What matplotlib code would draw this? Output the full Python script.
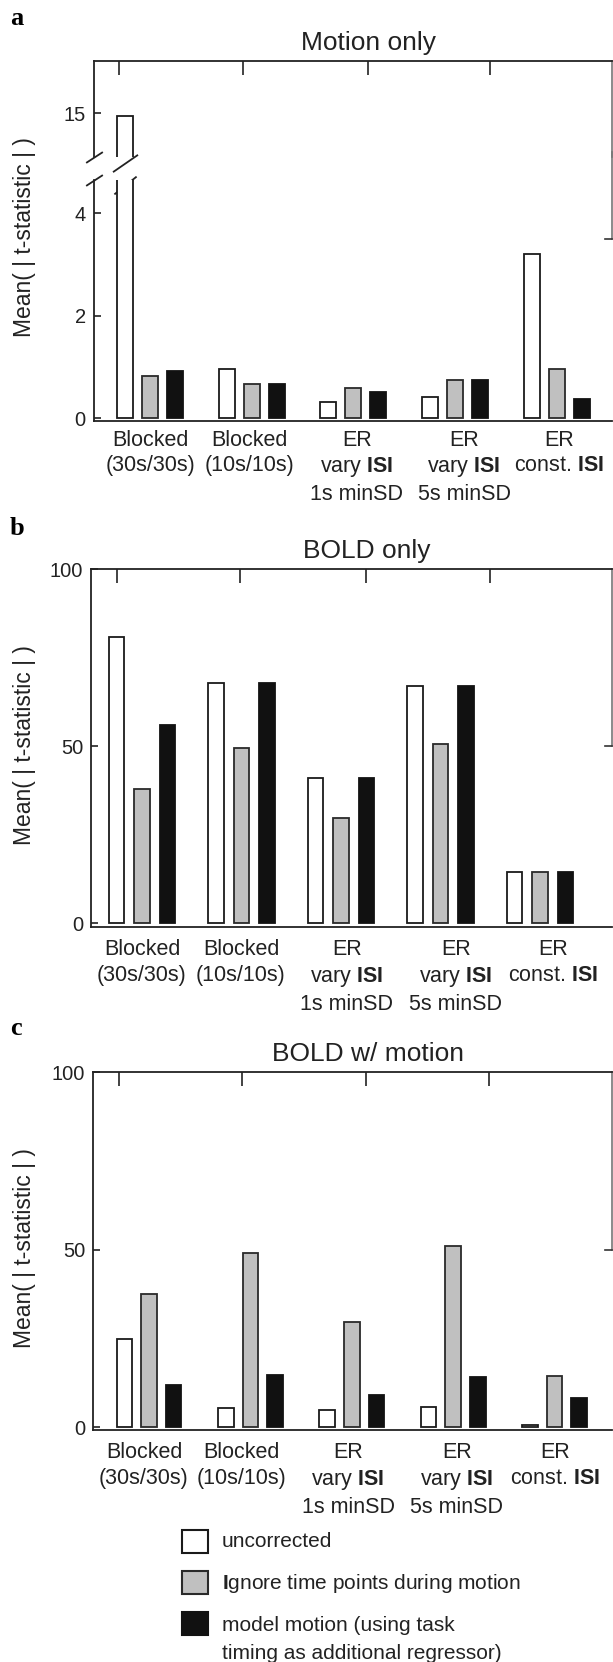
import matplotlib
matplotlib.use("Agg")
import matplotlib.pyplot as plt
from matplotlib.patches import Rectangle
from matplotlib.ticker import FixedLocator

plt.rcParams["font.family"] = ["Liberation Sans", "DejaVu Sans"]
plt.rcParams["mathtext.fontset"] = "custom"
plt.rcParams["mathtext.rm"] = "Liberation Sans"
plt.rcParams["mathtext.bf"] = "Liberation Sans:bold"

# --- data ---
conditions = [
    "Blocked\n(30s/30s)",
    "Blocked\n(10s/10s)",
    "ER\nvary $\\mathbf{ISI}$\n1s minSD",
    "ER\nvary $\\mathbf{ISI}$\n5s minSD",
    "ER\nconst. $\\mathbf{ISI}$",
]
series_names = ["uncorrected", "$\\mathbf{I}$gnore time points during motion",
                "model motion (using task\ntiming as additional regressor)"]

motion_uncorrected = [14.95, 0.97, 0.33, 0.41, 3.20]
motion_ignore = [0.82, 0.67, 0.60, 0.74, 0.97]
motion_model = [0.93, 0.67, 0.52, 0.74, 0.37]

bold_uncorrected = [81.0, 68.0, 41.1, 66.9, 14.4]
bold_ignore = [37.9, 49.4, 29.7, 50.5, 14.4]
bold_model = [56.0, 68.0, 41.1, 66.9, 14.4]

boldmot_uncorrected = [24.9, 5.35, 4.9, 5.8, 0.6]
boldmot_ignore = [37.5, 49.0, 29.8, 51.1, 14.5]
boldmot_model = [11.9, 14.6, 9.2, 14.1, 8.2]

FILLS = ["white", "#c0c0c0", "#111111"]
EDGES = ["#1a1a1a", "#2a2a2a", "#111111"]

W, H = 613, 1662
fig = plt.figure(figsize=(W / 100, H / 100), dpi=100)


def rect(L, T, R, B):
    return [L / W, 1 - B / H, (R - L) / W, (B - T) / H]


# per-panel pixel layout
LAY = {
    "a": dict(x0=150, step=101.65, L=93.5, R=612.3, off=25, bw=15.8, ls=1.26, pad=6.5,
              labels=[150.8, 249.5, 357, 464, 559], top=[119.3, 242.7, 367.5, 489.7]),
    "b": dict(x0=142, step=99.5, L=90.7, R=612, off=25.3, bw=15.5, ls=1.32, pad=8.5,
              labels=[142, 241, 347, 456, 553], top=[116.5, 239.7, 366.4, 490]),
    "c": dict(x0=149, step=101.4, L=92.7, R=612, off=24.6, bw=15.5, ls=1.32, pad=8.5,
              labels=[144, 241, 348, 456.7, 555], top=[118.5, 242.4, 366.4, 488.8]),
}


def to_data(lay, px):
    return (px - lay["x0"]) / lay["step"]


def style_axes(ax, lay, show_labels=True, top_ticks=True):
    ax.set_xlim(to_data(lay, lay["L"]), to_data(lay, lay["R"]))
    ax.spines["right"].set_visible(False)
    for s in ax.spines.values():
        s.set_linewidth(1.3)
        s.set_color("#222222")
    ax.set_xticks([to_data(lay, p) for p in lay["labels"]])
    if show_labels:
        ax.set_xticklabels(conditions, fontsize=15.5, color="#222222",
                           linespacing=lay["ls"])
    else:
        ax.set_xticklabels([])
    ax.tick_params(axis="x", which="major", length=0, pad=lay["pad"])
    if top_ticks:
        ax.xaxis.set_minor_locator(FixedLocator([to_data(lay, p) for p in lay["top"]]))
        ax.tick_params(axis="x", which="minor", top=True, bottom=False,
                       direction="in", length=10, width=1.2, color="#222222")
    ax.tick_params(axis="y", direction="in", length=5, width=1.2, pad=5.5,
                   labelsize=14.5, colors="#222222")


def draw_bars(ax, lay, values):
    idx = list(range(len(conditions)))
    off = lay["off"] / lay["step"]
    bw = lay["bw"] / lay["step"]
    for k, vals in enumerate(values):
        ax.bar([i + (k - 1) * off for i in idx], vals, width=bw,
               color=FILLS[k], edgecolor=EDGES[k], linewidth=1.3, zorder=3)


def right_spine(ax, ylo, yhi):
    ax.plot([1, 1], [ylo, yhi], transform=ax.get_yaxis_transform(),
            color="#777777", lw=1.2, clip_on=False)
    ax.plot([0.986, 1], [ylo, ylo], transform=ax.get_yaxis_transform(),
            color="#333333", lw=1.2, clip_on=False)


def panel_text(letter, y_base, title_ax, title, ylabel_center):
    fig.text(10 / W, 1 - y_base / H, letter, fontsize=19, fontweight="bold",
             family="Liberation Serif", va="baseline", ha="left")
    title_ax.set_title(title, fontsize=19, pad=8, color="#222222",
                       x=(368 - 93) / 519)
    fig.text(25 / W, 1 - ylabel_center / H, "Mean( | t-statistic | )",
             rotation=90, fontsize=16.5, va="center", ha="center", color="#222222")


# ---- panel a: broken axis ----
lay = LAY["a"]
motion = [motion_uncorrected, motion_ignore, motion_model]
ax_up = fig.add_axes(rect(lay["L"], 61, lay["R"], 157))
ax_lo = fig.add_axes(rect(lay["L"], 180, lay["R"], 421))
for ax in (ax_up, ax_lo):
    draw_bars(ax, lay, motion)
style_axes(ax_up, lay, show_labels=False, top_ticks=True)
style_axes(ax_lo, lay, show_labels=True, top_ticks=False)
ax_up.set_ylim(14.148, 16.02)
ax_up.set_yticks([15])
ax_up.spines["bottom"].set_visible(False)
ax_up.tick_params(axis="x", which="major", bottom=False)
ax_lo.set_ylim(-0.05, 4.65)
ax_lo.set_yticks([0, 2, 4])
ax_lo.spines["top"].set_visible(False)
ax_up.plot([1, 1], [0, 1], transform=ax_up.transAxes, color="#777777", lw=1.2,
           clip_on=False)
right_spine(ax_lo, 3.49, 5.2)

# break marks on the y axis and on the tall bar
brk = dict(linestyle="none", color="#222222", mec="#222222", mew=1.3, clip_on=False)
for ax, yy in ((ax_up, 0.0), (ax_lo, 1.0)):
    ax.plot([0], [yy], transform=ax.transAxes,
            marker=[(-1, -0.65), (1, 0.65)], markersize=12, **brk)
bar0 = -lay["off"] / lay["step"]
ax_up.plot([bar0], [-0.065], transform=ax_up.get_xaxis_transform(),
           marker=[(-1, -0.69), (1, 0.69)], markersize=18, **brk)
ax_lo.plot([bar0], [0.979], transform=ax_lo.get_xaxis_transform(),
           marker=[(-1, -0.8), (1, 0.8)], markersize=16, **brk)
panel_text("a", 25, ax_up, "Motion only", 237)

# ---- panel b ----
lay = LAY["b"]
ax_b = fig.add_axes(rect(lay["L"], 569.3, lay["R"], 926.7))
draw_bars(ax_b, lay, [bold_uncorrected, bold_ignore, bold_model])
style_axes(ax_b, lay)
ax_b.set_ylim(-1, 100)
ax_b.set_yticks([0, 50, 100])
right_spine(ax_b, 50, 100)
panel_text("b", 535, ax_b, "BOLD only", 745)

# ---- panel c ----
lay = LAY["c"]
ax_c = fig.add_axes(rect(lay["L"], 1072.3, lay["R"], 1430))
draw_bars(ax_c, lay, [boldmot_uncorrected, boldmot_ignore, boldmot_model])
style_axes(ax_c, lay)
ax_c.set_ylim(-0.76, 100)
ax_c.set_yticks([0, 50, 100])
right_spine(ax_c, 50, 100)
panel_text("c", 1035, ax_c, "BOLD w/ motion", 1248)

# ---- legend (pixel space) ----
lax = fig.add_axes([0, 0, 1, 1], zorder=-1)
lax.set_xlim(0, W)
lax.set_ylim(H, 0)
lax.axis("off")
row_top = [1530, 1571, 1612]
baselines = [1546.7, 1589, 1659]  # last entry: baseline of the label's last line
for k in range(3):
    lax.add_patch(Rectangle((182, row_top[k]), 26, 23, facecolor=FILLS[k],
                            edgecolor=EDGES[k], linewidth=1.5))
    lax.text(221.7, baselines[k], series_names[k], fontsize=15, va="baseline",
             ha="left", color="#222222", linespacing=1.6)

fig.savefig("out.png", dpi=100)
